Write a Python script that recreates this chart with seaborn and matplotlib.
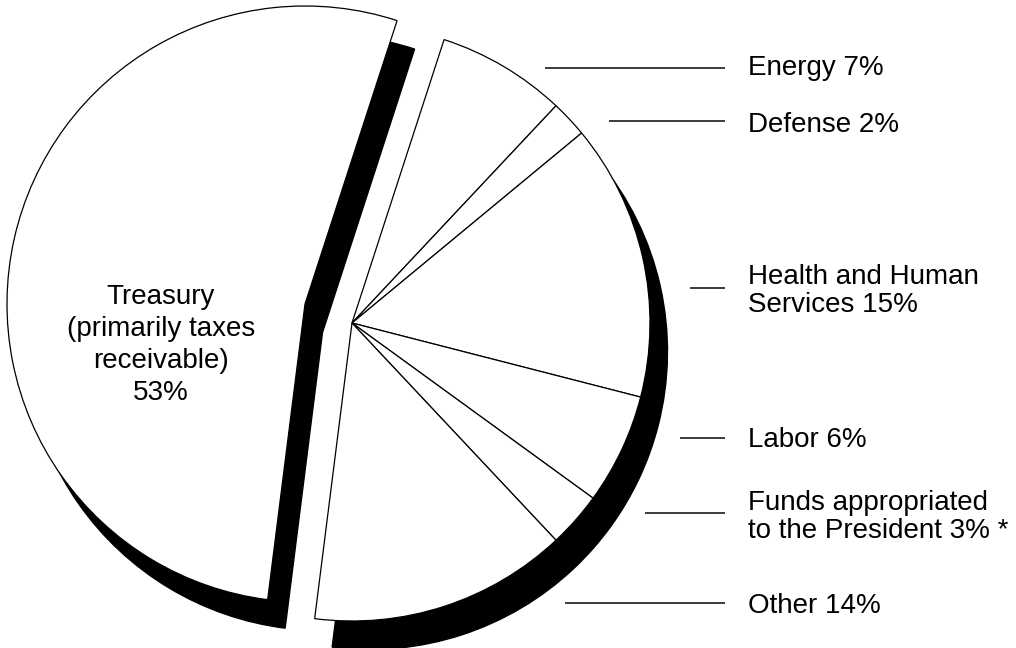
import matplotlib
matplotlib.use("Agg")
import matplotlib.pyplot as plt
import seaborn as sns

# Shares of the total, in drawing order (clockwise from the top)
categories = ["Energy", "Defense", "Health and Human\nServices", "Labor",
              "Funds appropriated\nto the President", "Other", "Treasury"]
shares = [7, 2, 15, 6, 3, 14, 53]
notes = ["", "", "", "", " *", "", ""]
treasury_label = "Treasury\n(primarily taxes\nreceivable)"

sns.set_theme(style="white")
plt.rcParams["font.family"] = ["Liberation Sans", "DejaVu Sans"]

W, H = 1016, 648
fig = plt.figure(figsize=(W / 100, H / 100), dpi=100)
ax = fig.add_axes([0, 0, 1, 1])

R = 298
cx, cy = 352, H - 323
shadow = (17.5, -28.5)
treasury_shift = (-47, 19)

common = dict(startangle=72, counterclock=False, radius=R, frame=True)

# black drop shadow
shadow_wedges, _ = ax.pie(shares, center=(cx + shadow[0], cy + shadow[1]),
                          colors=["black"] * len(shares),
                          wedgeprops=dict(edgecolor="black", linewidth=1.0,
                                          zorder=1), **common)
# white slices on top
wedges, _ = ax.pie(shares, center=(cx, cy),
                   colors=["white"] * len(shares),
                   wedgeprops=dict(edgecolor="black", linewidth=0.9, zorder=2),
                   **common)

# pull the Treasury slice out to the left
ti = categories.index("Treasury")
wedges[ti].set_center((cx + treasury_shift[0], cy + treasury_shift[1]))
shadow_wedges[ti].set_center((cx + treasury_shift[0] + shadow[0],
                              cy + treasury_shift[1] + shadow[1]))

# right-hand labels with leader lines (baseline of the last text line)
label_x = 748
line_end = 725
baselines = [75, 132, 312, 447, 538, 613]
line_y = [68, 121, 288, 438, 513, 603]
line_start = [545, 609, 690, 680, 645, 565]

for i in range(6):
    text = f"{categories[i]} {shares[i]}%{notes[i]}"
    ax.plot([line_start[i], line_end], [H - line_y[i]] * 2,
            color="#1a1a1a", lw=1.2, solid_capstyle="butt", zorder=3)
    ax.text(label_x, H - baselines[i], text, fontsize=20, ha="left",
            va="baseline", linespacing=1.12, color="black", zorder=4)

ax.text(161, H - 400, f"{treasury_label}\n{shares[ti]}%", fontsize=20,
        ha="center", va="baseline", multialignment="center",
        linespacing=1.3, color="black", zorder=4)

ax.set_xlim(0, W)
ax.set_ylim(0, H)
ax.set_aspect("equal")
ax.axis("off")

fig.savefig("out.png", dpi=100, facecolor="white")
